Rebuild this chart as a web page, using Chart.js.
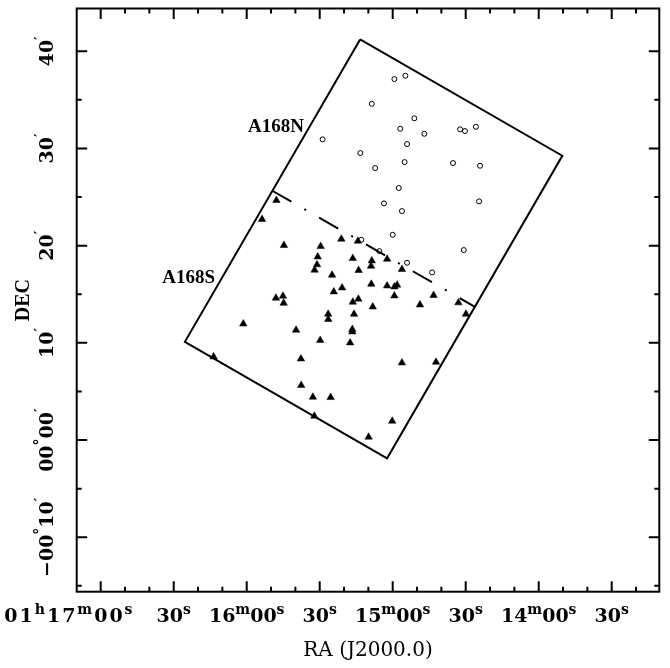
<!DOCTYPE html>
<html><head><meta charset="utf-8">
<script src="https://cdn.jsdelivr.net/npm/chart.js@4/dist/chart.umd.min.js"></script>
<style>html,body{margin:0;padding:0;background:#fff}#wrap{width:670px;height:668px;position:relative}</style>
</head><body><div id="wrap"><canvas id="c" width="670" height="668"></canvas></div>
<script>
// RA: seconds of time after 01h00m00s (J2000.0); DEC: arcmin from 00°00'
const northRA  = [899.3, 894.8, 908.6, 891.1, 896.9, 887.0, 872.3, 870.3, 865.8, 928.8, 894.1, 913.3, 895.1,
                  907.2, 875.2, 864.1, 897.5, 903.6, 896.2, 864.5, 900.0, 912.9, 870.8, 905.5, 894.1, 883.8];
const northDec = [37.14, 37.48, 34.60, 33.10, 32.03, 31.51, 31.97, 31.79, 32.23, 30.94, 30.45, 29.53, 28.60,
                  27.98, 28.50, 28.22, 25.93, 24.35, 23.56, 24.56, 21.12, 20.61, 19.55, 19.44, 18.24, 17.25];
const southRA  = [947.8, 953.7, 944.7, 929.6, 921.1, 914.3, 930.8, 931.1, 932.1, 924.9, 916.4, 908.6, 908.9,
                  914.0, 902.3, 896.2, 908.8, 902.3, 899.3, 898.2, 899.3, 920.8, 924.2, 948.0, 945.1, 944.8,
                  916.4, 914.1, 908.2, 888.8, 883.2, 873.0, 926.5, 915.9, 869.9, 926.5, 961.4, 939.7, 916.6,
                  916.6, 929.8, 917.5, 973.6, 937.7, 896.2, 882.2, 937.6, 932.8, 925.5, 932.2, 900.2, 909.9];
const southDec = [24.66, 22.71, 20.03, 19.93, 20.68, 20.47, 18.86, 18.04, 17.49, 16.98, 18.69, 18.45, 17.90,
                  17.46, 18.62, 17.56, 16.05, 15.87, 15.77, 15.95, 14.85, 15.67, 15.26, 14.61, 14.81, 14.09,
                  14.20, 14.51, 13.71, 13.92, 14.89, 14.13, 12.96, 12.96, 12.96, 12.42, 11.96, 11.32, 11.39,
                  11.14, 10.26, 10.01, 8.57, 8.36, 7.95, 8.02, 5.63, 4.42, 4.39, 2.47, 1.95, 0.31];
const boxRA    = [913.4, 830.3, 902.3, 985.4, 913.4];
const boxDec   = [41.22, 29.25, -1.88, 10.11, 41.22];
const splitRA  = [949.5, 866.2];
const splitDec = [25.65, 13.71];
const xTickValues = [1020, 990, 960, 930, 900, 870, 840, 810];
const xTickLabels = ["01^h17^m00^s", "30^s", "16^m00^s", "30^s", "15^m00^s", "30^s", "14^m00^s", "30^s"];
const yTickValues = [40, 30, 20, 10, 0, -10];
const yTickLabels = ["40^′", "30^′", "20^′", "10^′", "00^°00^′", "−00^°10^′"];
const regionNames = ["A168N", "A168S"];
const regionRA    = [936.5, 973.0];
const regionDec   = [31.72, 16.12];
const xLimits = [790.44, 1029.86];
const yLimits = [-15.6, 44.4];

const LSERIF = '"Liberation Serif", "DejaVu Serif", serif';
const DSERIF = '"DejaVu Serif", "Liberation Serif", serif';
const BASE_FONT = 'bold 19px ' + DSERIF;
const SUP_FONT = 'bold 14px ' + DSERIF;

function tokens(str) {
  const out = [];
  for (let i = 0; i < str.length; i++) {
    if (str[i] === '^' && i + 1 < str.length) { out.push({t: str[i + 1], sup: true}); i++; }
    else out.push({t: str[i], sup: false});
  }
  return out;
}
function tokWidth(ctx, tk) { ctx.font = tk.sup ? SUP_FONT : BASE_FONT; return ctx.measureText(tk.t).width; }
function drawRich(ctx, str, x, y, centerAfterHour, gap) {
  const tk = tokens(str);
  gap = gap || 0;
  let anchor = 0;
  if (centerAfterHour) { const i = tk.findIndex(k => k.sup && k.t === 'h'); if (i >= 0) anchor = i + 1; }
  let pre = 0, rest = 0;
  tk.forEach((k, i) => { const w = tokWidth(ctx, k) + gap; if (i < anchor) pre += w; else rest += w; });
  let cx = x - (rest - gap) / 2 - pre;
  ctx.textAlign = 'left'; ctx.textBaseline = 'alphabetic';
  tk.forEach(k => {
    ctx.font = k.sup ? SUP_FONT : BASE_FONT;
    ctx.fillText(k.t, cx, k.sup ? y - 8 : y);
    cx += ctx.measureText(k.t).width + gap;
  });
}

const framePlugin = {
  id: 'frame',
  afterDraw(chart) {
    const ctx = chart.ctx, a = chart.chartArea, xs = chart.scales.x, ys = chart.scales.y;
    ctx.save();
    ctx.strokeStyle = '#000'; ctx.fillStyle = '#000'; ctx.lineWidth = 2;
    ctx.strokeRect(a.left, a.top, a.right - a.left, a.bottom - a.top);
    for (let v = Math.ceil(xLimits[0] / 10) * 10; v <= xLimits[1]; v += 10) {
      const px = xs.getPixelForValue(v), len = (v % 30 === 0) ? 10.5 : 5;
      ctx.beginPath();
      ctx.moveTo(px, a.bottom); ctx.lineTo(px, a.bottom - len);
      ctx.moveTo(px, a.top); ctx.lineTo(px, a.top + len);
      ctx.stroke();
    }
    for (let v = Math.ceil(yLimits[0] / 5) * 5; v <= yLimits[1]; v += 5) {
      const py = ys.getPixelForValue(v), len = (v % 10 === 0) ? 10.5 : 5;
      ctx.beginPath();
      ctx.moveTo(a.left, py); ctx.lineTo(a.left + len, py);
      ctx.moveTo(a.right, py); ctx.lineTo(a.right - len, py);
      ctx.stroke();
    }
    xTickValues.forEach((v, i) => drawRich(ctx, xTickLabels[i], xs.getPixelForValue(v) - (i === 0 ? 11 : 0),
                                           a.bottom + 30, true, i === 0 ? 2 : 0));
    yTickValues.forEach((v, i) => {
      ctx.save();
      ctx.translate(a.left - 24, ys.getPixelForValue(v));
      ctx.rotate(-Math.PI / 2);
      drawRich(ctx, yTickLabels[i], 0, 0, false, 0);
      ctx.restore();
    });
    ctx.font = '20px ' + DSERIF; ctx.textAlign = 'center'; ctx.textBaseline = 'alphabetic';
    ctx.fillText('RA (J2000.0)', (a.left + a.right) / 2, 656);
    ctx.save();
    ctx.translate(29, (a.top + a.bottom) / 2);
    ctx.rotate(-Math.PI / 2);
    ctx.font = 'bold 20px ' + LSERIF;
    ctx.fillText('DEC', 0, 0);
    ctx.restore();
    ctx.font = 'bold 19px ' + LSERIF; ctx.textAlign = 'right';
    regionNames.forEach((n, i) => ctx.fillText(n, xs.getPixelForValue(regionRA[i]), ys.getPixelForValue(regionDec[i])));
    ctx.restore();
  }
};

const pts = (xa, ya) => xa.map((x, i) => ({x, y: ya[i]}));
new Chart(document.getElementById('c').getContext('2d'), {
  type: 'scatter',
  data: { datasets: [
    { label: 'field', data: pts(boxRA, boxDec), showLine: true, borderColor: '#000', borderWidth: 2,
      pointRadius: 0, fill: false, tension: 0 },
    { label: 'split', data: pts(splitRA, splitDec), showLine: true, borderColor: '#000', borderWidth: 2,
      borderDash: [22, 15, 2, 15], pointRadius: 0, fill: false },
    { label: 'A168N', data: pts(northRA, northDec), pointStyle: 'circle', pointRadius: 2.5, borderWidth: 1,
      borderColor: '#000', backgroundColor: 'rgba(255,255,255,0)' },
    { label: 'A168S', data: pts(southRA, southDec), pointStyle: 'triangle', pointRadius: 4.3, borderWidth: 0.5,
      borderColor: '#000', backgroundColor: '#000' }
  ]},
  options: {
    responsive: false, animation: false, devicePixelRatio: 1,
    layout: { padding: { left: 76.7, right: 10.7, top: 8.5, bottom: 76.3 } },
    plugins: { legend: { display: false }, tooltip: { enabled: false } },
    scales: {
      x: { type: 'linear', reverse: true, min: xLimits[0], max: xLimits[1], display: false },
      y: { type: 'linear', min: yLimits[0], max: yLimits[1], display: false }
    }
  },
  plugins: [framePlugin]
});
</script></body></html>
